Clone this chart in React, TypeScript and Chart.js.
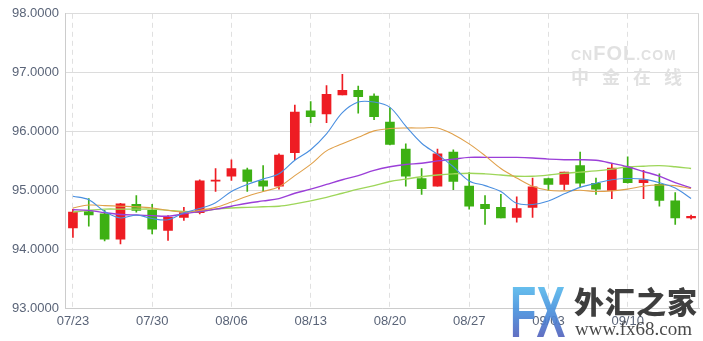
import React, { useEffect, useRef } from 'react';
import { Chart, registerables } from 'chart.js';

Chart.register(...registerables);

const dates = [
  '07/23', '07/24', '07/25', '07/26', '07/27',
  '07/30', '07/31', '08/01', '08/02', '08/03',
  '08/06', '08/07', '08/08', '08/09', '08/10',
  '08/13', '08/14', '08/15', '08/16', '08/17',
  '08/20', '08/21', '08/22', '08/23', '08/24',
  '08/27', '08/28', '08/29', '08/30', '08/31',
  '09/03', '09/04', '09/05', '09/06', '09/07',
  '09/10', '09/11', '09/12', '09/13', '09/14',
];

const opens = [
  94.36, 94.64, 94.60, 94.17, 94.76, 94.66, 94.32, 94.54, 94.62, 95.155,
  95.24, 95.35, 95.16, 95.07, 95.64, 96.35, 96.30, 96.62, 96.70, 96.60,
  96.16, 95.70, 95.20, 95.07, 95.65, 95.07, 94.76, 94.71, 94.54, 94.71,
  95.20, 95.10, 95.42, 95.12, 95.00, 95.40, 95.13, 95.10, 94.82, 94.53,
];
const closes = [
  94.63, 94.58, 94.17, 94.77, 94.66, 94.34, 94.54, 94.62, 95.16, 95.16,
  95.37, 95.15, 95.07, 95.60, 96.33, 96.25, 96.63, 96.70, 96.59, 96.25,
  95.78, 95.24, 95.03, 95.62, 95.15, 94.73, 94.69, 94.53, 94.69, 95.06,
  95.10, 95.31, 95.12, 95.02, 95.38, 95.13, 95.18, 94.83, 94.53, 94.56,
];
const highs = [
  94.68, 94.86, 94.66, 94.78, 94.91, 94.76, 94.57, 94.71, 95.18, 95.37,
  95.52, 95.38, 95.42, 95.62, 96.45, 96.51, 96.78, 96.97, 96.77, 96.64,
  96.40, 95.79, 95.37, 95.70, 95.69, 95.30, 94.91, 94.93, 94.89, 95.21,
  95.21, 95.31, 95.65, 95.21, 95.45, 95.57, 95.34, 95.28, 94.96, 94.58,
];
const lows = [
  94.20, 94.39, 94.14, 94.09, 94.63, 94.26, 94.15, 94.49, 94.60, 94.98,
  95.17, 94.98, 94.98, 95.02, 95.52, 96.15, 96.15, 96.62, 96.31, 96.20,
  95.77, 95.07, 94.93, 95.07, 95.01, 94.68, 94.42, 94.53, 94.46, 94.54,
  95.00, 95.01, 95.06, 94.93, 94.86, 95.12, 94.86, 94.73, 94.42, 94.51,
];

const ma5 = [
  94.90, 94.84, 94.64, 94.53, 94.58, 94.52, 94.50, 94.62, 94.69, 94.79,
  94.98, 95.10, 95.19, 95.28, 95.51, 95.69, 95.96, 96.32, 96.50, 96.50,
  96.41, 96.09, 95.80, 95.61, 95.40, 95.16, 95.08, 94.98, 94.78, 94.76,
  94.82, 94.94, 95.05, 95.12, 95.18, 95.20, 95.19, 95.13, 95.04, 94.86,
];
const ma10 = [
  94.70, 94.75, 94.74, 94.73, 94.72, 94.70, 94.66, 94.63, 94.66, 94.71,
  94.80, 94.90, 94.98, 95.06, 95.25, 95.44, 95.67, 95.79, 95.90, 96.01,
  96.05, 96.06, 96.06, 96.06, 95.95, 95.79, 95.59, 95.37, 95.21, 95.07,
  95.00, 94.99, 95.00, 94.98, 94.99, 95.02, 95.07, 95.09, 95.08, 95.03,
];
const ma20 = [
  94.67, 94.66, 94.62, 94.59, 94.58, 94.57, 94.56, 94.60, 94.64, 94.68,
  94.73, 94.78, 94.82, 94.86, 94.95, 95.02, 95.10, 95.18, 95.25, 95.34,
  95.40, 95.44, 95.46, 95.50, 95.53, 95.56, 95.56, 95.56, 95.56, 95.55,
  95.53, 95.52, 95.52, 95.51, 95.46, 95.40, 95.32, 95.24, 95.13, 95.04,
];
const ma30 = [
  94.63, 94.66, 94.68, 94.68, 94.68, 94.68, 94.66, 94.64, 94.64, 94.68,
  94.70, 94.71, 94.72, 94.73, 94.77, 94.82, 94.88, 94.95, 95.02, 95.08,
  95.15, 95.19, 95.23, 95.26, 95.28, 95.29, 95.28, 95.26, 95.24, 95.24,
  95.26, 95.29, 95.31, 95.33, 95.36, 95.40, 95.41, 95.42, 95.40, 95.37,
];

const yMin = 93;
const yMax = 98;
const labelEvery = 5;

const UP = '#ee1c23';
const DOWN = '#3db013';

export default function App() {
  const ref = useRef<HTMLCanvasElement>(null);

  useEffect(() => {
    if (!ref.current) return;
    const colors = opens.map((o, i) => (closes[i] >= o ? UP : DOWN));
    const bodies = opens.map((o, i) => [Math.min(o, closes[i]), Math.max(o, closes[i])]);
    const wicks = lows.map((l, i) => [l, highs[i]]);

    const frame = {
      id: 'frame',
      beforeDatasetsDraw(chart: any) {
        const { ctx, chartArea: a } = chart;
        ctx.save();
        ctx.strokeStyle = '#d4d4d4';
        ctx.lineWidth = 1;
        ctx.beginPath();
        const x = Math.round(a.right) - 0.5;
        ctx.moveTo(x, a.top);
        ctx.lineTo(x, a.bottom);
        ctx.stroke();
        ctx.restore();
      },
    };

    const lineDs = (data: number[], color: string, width: number) => ({
      type: 'line' as const,
      data,
      borderColor: color,
      backgroundColor: color,
      borderWidth: width,
      pointRadius: 0,
      tension: 0.35,
      fill: false,
      order: 0,
    });

    const chart = new Chart(ref.current, {
      type: 'bar',
      data: {
        labels: dates,
        datasets: [
          lineDs(ma5, '#4a8fe0', 1.1),
          lineDs(ma10, '#e0a04a', 1.1),
          lineDs(ma20, '#9b3fd8', 1.4),
          lineDs(ma30, '#9ed65a', 1.4),
          {
            type: 'bar',
            data: bodies as any,
            backgroundColor: colors,
            borderWidth: 0,
            barThickness: 9,
            minBarLength: 1,
            grouped: false,
            order: 1,
          } as any,
          {
            type: 'bar',
            data: wicks as any,
            backgroundColor: colors,
            borderWidth: 0,
            barThickness: 1,
            grouped: false,
            order: 2,
          } as any,
        ],
      },
      options: {
        responsive: false,
        animation: false,
        devicePixelRatio: 1,
        layout: { padding: { top: 12, right: 4, left: 0, bottom: 0 } },
        plugins: { legend: { display: false }, tooltip: { enabled: false } },
        scales: {
          x: {
            type: 'category',
            offset: true,
            afterFit: (s: any) => { s.height = 33; },
            grid: {
              offset: false,
              drawTicks: false,
              color: (ctx: any) => (ctx.index % labelEvery === 0 ? '#e0e0e0' : 'rgba(0,0,0,0)'),
            },
            border: { color: '#cccccc', dash: [5, 4] },
            ticks: {
              autoSkip: false,
              maxRotation: 0,
              padding: 6,
              color: '#5a6478',
              font: { family: 'Arial, "Liberation Sans", sans-serif', size: 13 },
              callback: (_v: any, i: number) => (i % labelEvery === 0 ? dates[i] : ''),
            },
          },
          y: {
            min: yMin,
            max: yMax,
            afterFit: (s: any) => { s.width = 65; },
            grid: { color: '#dcdcdc', drawTicks: false },
            border: { color: '#cccccc' },
            ticks: {
              stepSize: 1,
              padding: 6,
              color: '#5a6478',
              font: { family: 'Arial, "Liberation Sans", sans-serif', size: 13 },
              callback: (v: any) => Number(v).toFixed(4),
            },
          },
        },
      },
      plugins: [frame],
    });
    return () => chart.destroy();
  }, []);

  return (
    <div style={{ position: 'fixed', left: 0, top: 0, width: 703, height: 341, background: '#fff', overflow: 'hidden' }}>
      <canvas ref={ref} width={703} height={341} style={{ display: 'block' }} />
      <div style={{ position: 'absolute', left: 571, top: 43, width: 118, fontFamily: 'Arial, "Liberation Sans", sans-serif', fontWeight: 'bold', color: '#e1e1e1', lineHeight: 1 }}>
        <div style={{ fontSize: 20, letterSpacing: 1, whiteSpace: 'nowrap' }}>
          <span style={{ fontSize: 14 }}>CN</span>FOL<span style={{ fontSize: 14 }}>.COM</span>
        </div>
        <div style={{ fontFamily: '"Noto Sans CJK SC", sans-serif', fontSize: 18, letterSpacing: 13, marginTop: 4, whiteSpace: 'nowrap' }}>中金在线</div>
      </div>
      <div style={{ position: 'absolute', left: 510, top: 276, opacity: 0.92, whiteSpace: 'nowrap' }}>
        <div style={{
          position: 'absolute', left: 0, top: 0, fontFamily: 'Arial, "Liberation Sans", sans-serif', fontWeight: 900,
          fontSize: 72, lineHeight: '72px', transform: 'scaleX(0.6)', transformOrigin: 'left top',
          background: 'linear-gradient(180deg, #60ccf4 0%, #4a90dc 50%, #5a50b0 100%)',
          WebkitBackgroundClip: 'text', backgroundClip: 'text', color: 'transparent',
        }}>FX</div>
        <div style={{ position: 'absolute', left: 64, top: 8, fontFamily: '"Noto Sans CJK SC", sans-serif', fontWeight: 900, fontSize: 30, lineHeight: '32px', color: '#2e2e2e', letterSpacing: 1 }}>外汇之家</div>
        <div style={{ position: 'absolute', left: 65, top: 43, fontFamily: '"Liberation Serif", serif', fontSize: 19, lineHeight: '20px', color: '#3a3a3a' }}>www.fx68.com</div>
      </div>
    </div>
  );
}
